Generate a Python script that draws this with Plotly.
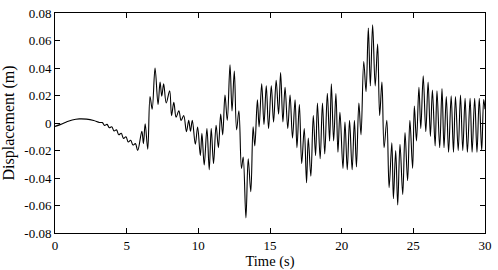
import plotly.graph_objects as go

# Extrema / trace points (time in s, displacement in m)
time_s = [
    0.00, 0.40, 0.80, 1.20, 1.70, 2.20, 2.70, 3.10,
    3.30, 3.46, 3.63, 3.79, 3.96, 4.12, 4.29, 4.45, 4.62, 4.78, 4.95, 5.11,
    5.28, 5.44, 5.61, 5.77,
    6.06, 6.17, 6.29, 6.47, 6.63, 6.78, 6.98, 7.19, 7.33, 7.45, 7.58, 7.76,
    8.00, 8.13, 8.29, 8.45, 8.64, 8.80, 8.98, 9.17, 9.33, 9.45, 9.58, 9.79,
    9.95, 10.14, 10.25, 10.41, 10.60, 10.76, 10.90, 11.06, 11.24, 11.40, 11.56, 11.70,
    11.86, 12.02, 12.21, 12.35, 12.51, 12.67, 12.83, 13.01, 13.13, 13.32, 13.48, 13.66,
    13.82, 13.94, 14.12, 14.24, 14.42, 14.58, 14.74, 14.90, 15.09, 15.25, 15.43, 15.60,
    15.74, 15.90, 16.05, 16.24, 16.40, 16.57, 16.75, 16.88, 17.05, 17.21, 17.39, 17.55,
    17.67, 17.85, 18.02, 18.18, 18.31, 18.50, 18.66, 18.82, 19.00, 19.16, 19.28, 19.44,
    19.60, 19.74, 19.88, 20.09, 20.23, 20.39, 20.55, 20.73, 20.89, 21.03, 21.20, 21.35,
    21.54, 21.70, 21.86, 22.00, 22.16, 22.34, 22.51, 22.65, 22.81, 22.96, 23.15, 23.31,
    23.50, 23.61, 23.77, 23.91, 24.07, 24.26, 24.42, 24.60, 24.76, 24.95, 25.07, 25.22,
    25.39, 25.52, 25.69, 25.87, 26.03, 26.19, 26.33, 26.52, 26.65, 26.84, 27.00, 27.14,
    27.30, 27.46, 27.64, 27.80, 27.94, 28.13, 28.29, 28.45, 28.61, 28.77, 28.96, 29.10,
    29.28, 29.44, 29.60, 29.77, 29.91, 30.00,
]
displacement_m = [
    -0.0025, -0.0010, 0.0008, 0.0022, 0.0030, 0.0028, 0.0018, 0.0004,
    0.0003, -0.0018, -0.0010, -0.0035, -0.0027, -0.0058, -0.0050, -0.0085, -0.0075, -0.0112, -0.0100, -0.0138,
    -0.0125, -0.0160, -0.0150, -0.0200,
    -0.0060, -0.0150, -0.0005, -0.0190, 0.0193, 0.0100, 0.0400, 0.0134, 0.0297, 0.0195, 0.0285, 0.0146,
    0.0234, 0.0054, 0.0150, 0.0042, 0.0088, 0.0019, 0.0054, -0.0063, 0.0019, -0.0060, 0.0020, -0.0155,
    -0.0030, -0.0237, -0.0074, -0.0306, -0.0040, -0.0340, -0.0040, -0.0295, -0.0016, -0.0179, 0.0065, -0.0086,
    0.0204, 0.0019, 0.0424, 0.0088, 0.0378, -0.0050, 0.0088, -0.0330, -0.0248, -0.0690, -0.0260, -0.0500,
    -0.0028, -0.0167, 0.0169, -0.0028, 0.0285, -0.0010, 0.0270, -0.0040, 0.0270, 0.0007, 0.0310, 0.0065,
    0.0367, 0.0007, 0.0260, -0.0040, 0.0204, -0.0110, 0.0169, -0.0179, 0.0134, -0.0295, -0.0040, -0.0434,
    -0.0110, -0.0387, 0.0054, -0.0237, 0.0146, -0.0260, 0.0146, -0.0225, 0.0216, -0.0132, 0.0285, -0.0130,
    0.0215, -0.0213, 0.0077, -0.0330, 0.0007, -0.0340, 0.0019, -0.0340, 0.0019, -0.0320, 0.0146, -0.0086,
    0.0447, 0.0227, 0.0690, 0.0270, 0.0714, 0.0270, 0.0575, 0.0054, 0.0297, -0.0180, 0.0019, -0.0470,
    -0.0144, -0.0550, -0.0200, -0.0596, -0.0155, -0.0520, -0.0070, -0.0420, 0.0019, -0.0330, 0.0123, -0.0130,
    0.0260, -0.0040, 0.0343, -0.0063, 0.0297, -0.0097, 0.0239, -0.0167, 0.0234, -0.0180, 0.0250, -0.0180,
    0.0193, -0.0213, 0.0197, -0.0213, 0.0193, -0.0200, 0.0204, -0.0200, 0.0180, -0.0213, 0.0180, -0.0213,
    0.0180, -0.0213, 0.0180, -0.0200, 0.0170, 0.0100,
]

x_ticks = [0, 5, 10, 15, 20, 25, 30]
x_tick_labels = ["0", "5", "10", "15", "20", "25", "30"]
y_ticks = [-0.08, -0.06, -0.04, -0.02, 0, 0.02, 0.04, 0.06, 0.08]
y_tick_labels = ["-0.08", "-0.06", "-0.04", "-0.02", "0", "0.02", "0.04", "0.06", "0.08"]

FONT = "Liberation Serif"

fig = go.Figure()
fig.add_trace(go.Scatter(
    x=time_s, y=displacement_m, mode="lines",
    line=dict(color="black", width=1.1, shape="spline", smoothing=1.0),
    showlegend=False,
))

axis_common = dict(
    showline=True, linecolor="black", linewidth=1, mirror="ticks",
    ticks="inside", ticklen=5, tickcolor="black", tickwidth=1,
    showgrid=False, zeroline=False,
    ticklabeloverflow="allow",
    tickfont=dict(family=FONT, size=13, color="black"),
)

fig.update_layout(
    width=498, height=270,
    margin=dict(l=55, r=9, t=6, b=34),
    paper_bgcolor="white", plot_bgcolor="white",
    font=dict(family=FONT, size=13, color="black"),
    xaxis=dict(range=[0, 30], tickvals=x_ticks, ticktext=x_tick_labels,
               title=dict(text="Time (s)", font=dict(family=FONT, size=14.5, color="black"), standoff=1),
               **axis_common),
    yaxis=dict(range=[-0.08, 0.08], tickvals=y_ticks, ticktext=y_tick_labels,
               title=dict(text="Displacement (m)", font=dict(family=FONT, size=16, color="black"), standoff=7),
               **axis_common),
)

fig.write_html("out.html")
